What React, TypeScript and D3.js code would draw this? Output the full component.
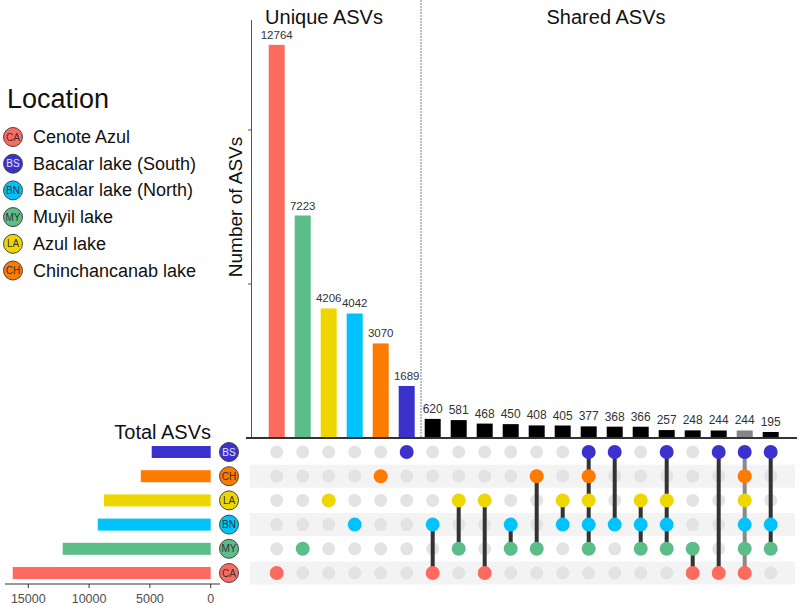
import React from 'react'
import * as d3 from 'd3'

// sets, in matrix row order (top to bottom)
const sets = ['BS', 'CH', 'LA', 'BN', 'MY', 'CA']
const setColors: Record<string, string> = {
  CA: '#fd6a5f',
  BS: '#3b31cc',
  BN: '#00c3fb',
  MY: '#5bbd88',
  LA: '#eed700',
  CH: '#fe7a00'
}
const totals = [4850, 5750, 8780, 9290, 12170, 16280]

// legend
const legendCodes = ['CA', 'BS', 'BN', 'MY', 'LA', 'CH']
const legendNames = [
  'Cenote Azul',
  'Bacalar lake (South)',
  'Bacalar lake (North)',
  'Muyil lake',
  'Azul lake',
  'Chinchancanab lake'
]

// intersections
const intersectionSets = [
  ['CA'],
  ['MY'],
  ['LA'],
  ['BN'],
  ['CH'],
  ['BS'],
  ['BN', 'CA'],
  ['LA', 'MY'],
  ['LA', 'CA'],
  ['BN', 'MY'],
  ['CH', 'MY'],
  ['LA', 'BN'],
  ['BS', 'CH', 'LA', 'BN', 'MY'],
  ['BS', 'BN'],
  ['LA', 'BN', 'MY'],
  ['BS', 'LA', 'BN', 'MY'],
  ['MY', 'CA'],
  ['BS', 'CA'],
  ['BS', 'CH', 'LA', 'BN', 'MY', 'CA'],
  ['BS', 'BN', 'MY']
]
const intersectionCounts = [
  12764, 7223, 4206, 4042, 3070, 1689, 620, 581, 468, 450, 408, 405, 377, 368,
  366, 257, 248, 244, 244, 195
]
const totalTicks = [0, 5000, 10000, 15000]
const barTicks = [0, 5000, 10000]

const FONT = '"Liberation Sans", Arial, sans-serif'

export default function App() {
  const baseline = 438
  const cols = intersectionCounts.map((_, i) => i)

  const x = d3.scalePoint<number>().domain(cols).range([276.7, 770.7])
  const y = d3.scaleLinear().domain([0, 13570]).range([baseline, 20])
  const row = d3.scalePoint<string>().domain(sets).range([452, 573])
  const tx = d3.scaleLinear().domain([0, 15000]).range([210.7, 28.3])

  const barW = 16
  const greyCol = 18

  return (
    <svg
      width={800}
      height={605}
      style={{ position: 'absolute', left: 0, top: 0, fontFamily: FONT }}
    >
      <rect width={800} height={605} fill="#fff" />

      {/* legend */}
      <text x={7} y={108} fontSize={27} fill="#111">
        Location
      </text>
      {legendCodes.map((c, i) => {
        const cy = 137 + i * 26.7
        return (
          <g key={c}>
            <circle cx={13} cy={cy} r={9.5} fill={setColors[c]} stroke="#444" strokeWidth={1} />
            <text
              x={13}
              y={cy}
              fontSize={10}
              textAnchor="middle"
              dominantBaseline="central"
              fill={c === 'BS' ? '#e6e6ff' : '#333'}
            >
              {c}
            </text>
            <text x={33} y={cy} fontSize={18} dominantBaseline="central" fill="#111">
              {legendNames[i]}
            </text>
          </g>
        )
      })}

      {/* headers */}
      <text x={324} y={24} fontSize={20} textAnchor="middle" fill="#111">
        Unique ASVs
      </text>
      <text x={606} y={24} fontSize={20} textAnchor="middle" fill="#111">
        Shared ASVs
      </text>
      <line
        x1={421}
        x2={421}
        y1={0}
        y2={baseline}
        stroke="#aaa"
        strokeWidth={1.5}
        strokeDasharray="2,1"
      />

      {/* bar y axis */}
      <line x1={251.5} x2={251.5} y1={y(13570)} y2={baseline} stroke="#555" strokeWidth={1} />
      {barTicks.map(t => (
        <line key={t} x1={248} x2={251.5} y1={y(t)} y2={y(t)} stroke="#555" />
      ))}
      <text
        transform={`translate(235,207) rotate(-90)`}
        fontSize={19}
        textAnchor="middle"
        dominantBaseline="central"
        fill="#111"
      >
        Number of ASVs
      </text>

      {/* matrix stripes */}
      {sets.map((s, i) =>
        i % 2 === 1 ? (
          <rect key={s} x={250} y={row(s)! - 11.5} width={545} height={23} fill="#f3f3f3" />
        ) : null
      )}

      {/* intersection bars */}
      {intersectionCounts.map((v, i) => {
        const single = intersectionSets[i].length === 1
        const fill = single
          ? setColors[intersectionSets[i][0]]
          : i === greyCol
          ? '#858585'
          : '#000'
        return (
          <g key={i}>
            <rect
              x={x(i)! - barW / 2}
              y={y(v)}
              width={barW}
              height={baseline - y(v)}
              fill={fill}
            />
            <text
              x={x(i)}
              y={y(v) - 6}
              fontSize={single ? 11.5 : 12}
              textAnchor="middle"
              fill="#333"
            >
              {v}
            </text>
          </g>
        )
      })}
      <line x1={246} x2={797} y1={baseline} y2={baseline} stroke="#333" strokeWidth={2} />

      {/* matrix */}
      {cols.map(i => {
        const members = intersectionSets[i]
        const ys = members.map(m => row(m)!)
        const lineCol = i === greyCol ? '#8a8a8a' : '#333'
        return (
          <g key={i}>
            {sets.map(s =>
              members.includes(s) ? null : (
                <circle key={s} cx={x(i)} cy={row(s)} r={6.5} fill="#e3e3e3" />
              )
            )}
            {members.length > 1 && (
              <line
                x1={x(i)}
                x2={x(i)}
                y1={d3.min(ys)}
                y2={d3.max(ys)}
                stroke={lineCol}
                strokeWidth={4}
              />
            )}
            {members.map(m => (
              <circle key={m} cx={x(i)} cy={row(m)} r={7} fill={setColors[m]} />
            ))}
          </g>
        )
      })}

      {/* row labels */}
      {sets.map(s => (
        <g key={s}>
          <circle cx={229} cy={row(s)} r={9.5} fill={setColors[s]} stroke="#444" strokeWidth={1} />
          <text
            x={229}
            y={row(s)}
            fontSize={10}
            textAnchor="middle"
            dominantBaseline="central"
            fill={s === 'BS' ? '#e6e6ff' : '#333'}
          >
            {s}
          </text>
        </g>
      ))}

      {/* total bars */}
      <text x={211} y={439} fontSize={20} textAnchor="end" fill="#111">
        Total ASVs
      </text>
      {sets.map((s, i) => (
        <rect
          key={s}
          x={tx(totals[i])}
          y={row(s)! - 6}
          width={tx(0) - tx(totals[i])}
          height={12}
          fill={setColors[s]}
        />
      ))}
      <line x1={tx(16920)} x2={tx(-765)} y1={584} y2={584} stroke="#333" strokeWidth={1} />
      {totalTicks.map(t => (
        <g key={t}>
          <line x1={tx(t)} x2={tx(t)} y1={584} y2={588} stroke="#333" />
          <text
            x={tx(t)}
            y={599}
            fontSize={12.5}
            textAnchor="middle"
            dominantBaseline="central"
            fill="#4d4d4d"
          >
            {t}
          </text>
        </g>
      ))}
    </svg>
  )
}
